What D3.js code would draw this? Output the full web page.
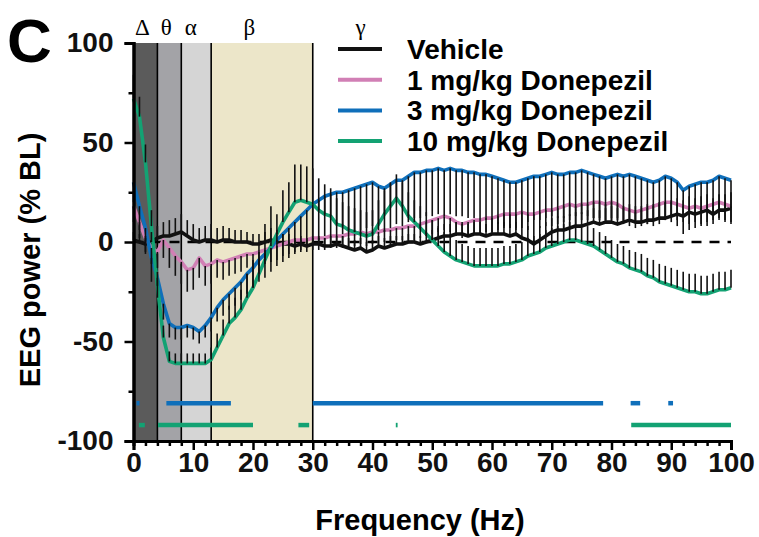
<!doctype html>
<html lang="en">
<head>
<meta charset="utf-8">
<script src="https://d3js.org/d3.v7.min.js"></script>
<style>
  body { margin: 0; background: #fff; }
  text { font-family: "Liberation Sans", Arial, sans-serif; font-weight: bold; }
</style>
</head>
<body>
<div id="chart"></div>
<script>
// frequency grid (Hz) and band edges
var freq = d3.range(0, 101);
var bandNames = ["\u0394", "\u03b8", "\u03b1", "\u03b2", "\u03b3"];
var bandEdges = [0, 4, 8, 13, 30];
var bandColors = ["#5b5b5b", "#a3a3a7", "#d5d5d5", "#ece6c9"];

// mean EEG power (% BL) per Hz
var vehicle = [1,0,-1,0,2,3,3,4,5,3, 1,0,1,1,0,1,1,0,0,0, -1,-1,0,1,0,-1,-1,-2,-1,-2, -1,-1,-2,-2,-1,-2,-3,-4,-3,-5,
  -4,-2,-3,-2,-1,-1,0,0,-1,0, 1,2,3,3,4,4,3,4,4,3, 4,4,4,3,4,2,1,-1,1,3, 5,6,6,7,8,8,9,10,9,10,
  10,9,10,11,10,10,11,11,12,12, 13,14,13,15,14,15,16,14,16,16, 17];
var dose1 = [18,10,2,-3,-5,1,-3,-7,-10,-14, -13,-8,-12,-11,-9,-10,-9,-8,-7,-6, -6,-5,-4,-3,-2,-1,0,1,1,1, 2,2,2,3,3,3,4,4,5,4,
  5,5,6,6,7,7,8,8,9,10, 11,12,13,12,10,9,10,11,11,12, 12,13,14,14,14,15,14,14,15,16, 16,17,18,19,18,19,19,20,20,19,
  20,19,17,16,15,16,17,18,19,20, 20,19,18,17,18,17,18,19,20,19, 18];
var dose3 = [30,18,7,-8,-18,-31,-41,-43,-43,-42, -43,-45,-42,-38,-33,-29,-26,-23,-20,-16, -13,-9,-6,-3,1,4,7,10,13,16,
  19,21,23,24,25,25,26,27,28,29, 30,28,27,29,31,31,33,35,35,36, 36,37,36,37,36,36,35,35,34,34, 33,32,31,30,30,31,32,33,33,34,
  35,34,34,35,35,36,35,34,33,32, 33,34,33,34,33,32,31,30,31,33, 32,30,26,28,29,30,30,31,33,32, 31];
var dose10 = [72,63,40,8,-22,-48,-60,-61,-61,-61, -61,-61,-61,-59,-53,-47,-41,-38,-34,-28, -23,-16,-9,-2,4,10,15,20,21,20,
  19,16,14,13,9,8,6,5,4,3, 4,9,14,18,22,18,13,10,7,4, 1,-2,-5,-7,-9,-10,-11,-12,-12,-12, -12,-12,-11,-11,-10,-9,-7,-6,-5,-3,
  -2,-1,0,1,1,0,-1,-2,-4,-6, -8,-10,-11,-13,-14,-15,-17,-18,-20,-21, -22,-23,-24,-25,-25,-26,-26,-25,-24,-24, -23];

// SEM per Hz (drawn one-sided)
var vehicleErr = [4,4,4,5,6,7,8,8,9,8, 8,7,7,8,7,7,6,6,6,5, 5,5,5,6,6,5,5,4,4,4, 4,4,4,5,5,5,5,5,5,5,
  5,5,5,5,4,4,4,4,4,5, 5,5,6,6,6,6,6,6,6,6, 6,6,6,6,6,6,7,7,7,7, 7,7,7,7,7,7,7,7,7,7,
  8,8,8,8,8,8,8,8,8,8, 8,8,8,8,8,8,8,8,8,8, 8];
var dose1Err = [8,8,8,8,8,9,10,10,11,11, 11,10,10,10,9,9,8,8,8,7, 7,7,7,7,7,6,6,6,6,6, 6,6,6,6,6,6,6,6,6,6,
  6,6,6,6,6,6,7,7,7,7, 7,7,7,7,7,7,7,7,7,7, 7,7,7,7,8,8,8,8,8,8, 8,8,8,8,8,8,8,8,8,8,
  8,8,8,8,8,8,8,8,8,8, 8,8,8,8,8,8,8,8,8,8, 8];
var dose3Err = [10,12,12,12,10,8,7,6,6,6, 6,6,6,7,7,8,8,9,9,10, 10,11,12,12,13,14,15,16,17,18, 19,20,20,21,21,21,22,22,22,22,
  22,22,22,22,22,23,23,23,23,23, 23,23,23,23,23,23,23,23,23,23, 23,23,23,23,23,23,22,22,22,22, 22,22,22,22,22,22,22,22,22,22,
  22,22,22,22,22,22,22,22,22,22, 22,22,22,22,22,22,22,22,22,22, 22];
var dose10Err = [12,10,9,8,7,6,5,5,5,5, 5,5,5,6,7,8,9,10,10,12, 14,16,18,20,10,16,15,19,18,18, 18,16,15,14,13,12,12,12,12,12,
  12,12,12,12,12,12,12,11,11,11, 10,10,10,10,10,9,9,9,9,9, 9,9,9,9,9,9,9,9,9,9,
  9,9,9,9,9,9,9,9,9,9, 9,9,9,9,9,9,9,9,9,9, 9,9,9,9,9,9,9,9,9,9, 9];

// significance bars [from Hz, to Hz]
var sig3 = [[0.5, 1], [5.5, 16.3], [30, 78.6], [83.2, 84.8], [89.5, 90.3]];
var sig10 = [[0.9, 1.9], [4.1, 20], [27.6, 29.4], [43.9, 44.2], [83.3, 100]];

var seriesNames = ["Vehicle", "1 mg/kg Donepezil", "3 mg/kg Donepezil", "10 mg/kg Donepezil"];
var seriesColors = ["#111111", "#d17fb5", "#0f6fba", "#13a273"];

var yMajor = [-100, -50, 0, 50, 100];
var yMinor = [-75, -25, 25, 75];
var xMajor = [0, 10, 20, 30, 40, 50, 60, 70, 80, 90, 100];
var xMinor = [2, 4, 6, 8, 12, 14, 16, 18, 22, 24, 26, 28, 32, 34, 36, 38, 42, 44, 46, 48, 52, 54, 56, 58,
  62, 64, 66, 68, 72, 74, 76, 78, 82, 84, 86, 88, 92, 94, 96, 98];

var margin = {top: 43, left: 133.5},
    width = 597.5,
    height = 398;

var svg = d3.select("#chart").append("svg")
    .attr("width", 759)
    .attr("height", 537);
var g = svg.append("g").attr("transform", "translate(" + margin.left + "," + margin.top + ")");

var x = d3.scaleLinear().domain([0, 100]).range([0, width]);
var y = d3.scaleLinear().domain([-100, 100]).range([height, 0]);

// frequency bands
g.selectAll(".band").data(bandColors).enter().append("rect")
    .attr("x", function(d, i) { return x(bandEdges[i]); })
    .attr("width", function(d, i) { return x(bandEdges[i + 1]) - x(bandEdges[i]); })
    .attr("y", 0).attr("height", height)
    .attr("fill", function(d) { return d; });
g.selectAll(".edge").data(bandEdges.slice(1)).enter().append("line")
    .attr("x1", function(d) { return x(d); }).attr("x2", function(d) { return x(d); })
    .attr("y1", 0).attr("y2", height)
    .attr("stroke", "#000").attr("stroke-width", 1.6);

// greek band labels
var labelPos = [1.5, 5.5, 9.6, 19.4, 38];
svg.selectAll(".greek").data(bandNames).enter().append("text")
    .attr("x", function(d, i) { return margin.left + x(labelPos[i]); })
    .attr("y", 35)
    .attr("text-anchor", "middle")
    .style("font-family", "'Liberation Serif', 'DejaVu Serif', serif")
    .style("font-weight", "normal")
    .style("font-size", "23px")
    .text(function(d) { return d; });

// zero line
g.append("line")
    .attr("x1", x(0)).attr("x2", x(100))
    .attr("y1", y(0)).attr("y2", y(0))
    .attr("stroke", "#000").attr("stroke-width", 2.5)
    .attr("stroke-dasharray", "10,8");

// significance bars
g.selectAll(".sig3").data(sig3).enter().append("line")
    .attr("x1", function(d) { return x(d[0]); }).attr("x2", function(d) { return x(d[1]); })
    .attr("y1", y(-81)).attr("y2", y(-81))
    .attr("stroke", seriesColors[2]).attr("stroke-width", 4.5);
g.selectAll(".sig10").data(sig10).enter().append("line")
    .attr("x1", function(d) { return x(d[0]); }).attr("x2", function(d) { return x(d[1]); })
    .attr("y1", y(-92)).attr("y2", y(-92))
    .attr("stroke", seriesColors[3]).attr("stroke-width", 4.5);

var series = [vehicle, dose1, dose3, dose10];
var errs = [vehicleErr, dose1Err, dose3Err, dose10Err];
var errDir = [1, -1, -1, 1];

var line = d3.line()
    .x(function(d, i) { return x(freq[i]); })
    .y(function(d) { return y(d); });

series.forEach(function(s, k) {
    g.append("path")
        .datum(s)
        .attr("fill", "none")
        .attr("stroke", seriesColors[k])
        .attr("stroke-width", 3.6)
        .attr("stroke-linejoin", "round")
        .attr("d", line);
});

// error bars on top of the lines
series.forEach(function(s, k) {
    g.selectAll(".err" + k).data(s).enter().append("line")
        .attr("x1", function(d, i) { return x(freq[i]); })
        .attr("x2", function(d, i) { return x(freq[i]); })
        .attr("y1", function(d) { return y(d); })
        .attr("y2", function(d, i) { return y(d + errDir[k] * errs[k][i]); })
        .attr("stroke", "#111").attr("stroke-width", 1.6);
});

// axes
g.append("g")
    .call(d3.axisLeft(y).tickValues(yMinor).tickSize(5).tickFormat(""));
g.append("g")
    .attr("transform", "translate(0," + height + ")")
    .call(d3.axisBottom(x).tickValues(xMinor).tickSize(5).tickFormat(""));
g.append("g")
    .attr("class", "major")
    .call(d3.axisLeft(y).tickValues(yMajor).tickSize(9).tickPadding(11)
        .tickFormat(function(d) { return d < 0 ? "-" + Math.abs(d) : d; }));
g.append("g")
    .attr("class", "major")
    .attr("transform", "translate(0," + height + ")")
    .call(d3.axisBottom(x).tickValues(xMajor).tickSize(9).tickPadding(2));

g.selectAll(".domain").attr("stroke", "#000").attr("stroke-width", 3);
g.selectAll(".tick line").attr("stroke", "#000").attr("stroke-width", 2.5);
g.selectAll(".major .tick text").style("font-size", "28px").attr("fill", "#111");

// axis titles
svg.append("text")
    .attr("x", 420).attr("y", 530)
    .attr("text-anchor", "middle")
    .style("font-size", "29px")
    .text("Frequency (Hz)");
svg.append("text")
    .attr("transform", "translate(40,260) rotate(-90)")
    .attr("text-anchor", "middle")
    .style("font-size", "29px")
    .text("EEG power (% BL)");

// panel letter
svg.append("text")
    .attr("x", 7).attr("y", 62)
    .style("font-size", "62px")
    .text("C");

// legend
var legend = svg.selectAll(".legend").data(seriesNames).enter().append("g")
    .attr("transform", function(d, i) { return "translate(338," + (49 + i * 30.7) + ")"; });
legend.append("line")
    .attr("x1", 0).attr("x2", 44)
    .attr("stroke", function(d, i) { return seriesColors[i]; })
    .attr("stroke-width", 4);
legend.append("text")
    .attr("x", 69).attr("y", 10)
    .style("font-size", "28px")
    .text(function(d) { return d; });
</script>
</body>
</html>
